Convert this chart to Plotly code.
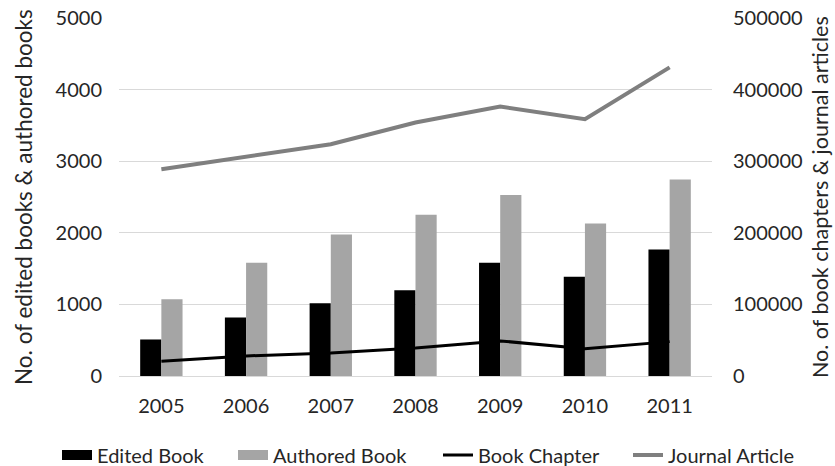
import plotly.graph_objects as go

years = ["2005", "2006", "2007", "2008", "2009", "2010", "2011"]
edited_book = [510, 816, 1017, 1199, 1581, 1385, 1768]
authored_book = [1073, 1581, 1978, 2253, 2528, 2131, 2743]
book_chapter = [20500, 28000, 32200, 39200, 49000, 38200, 48000]
journal_article = [288700, 305500, 323700, 354000, 376400, 358700, 431000]
left_title = "No. of edited books & authored books"
right_title = "No. of book chapters & journal articles"

FONT = "Lato"
TXT = "#262626"
C_EDIT = "#000000"
C_AUTH = "#a5a5a5"
C_CHAP = "#000000"
C_JOUR = "#7f7f7f"

fig = go.Figure()
fig.add_trace(go.Bar(x=years, y=edited_book, name="Edited Book", showlegend=False,
                     legendgroup="e", marker=dict(color=C_EDIT, line=dict(width=0))))
fig.add_trace(go.Bar(x=years, y=authored_book, name="Authored Book", showlegend=False,
                     legendgroup="a", marker=dict(color=C_AUTH, line=dict(width=0))))
fig.add_trace(go.Scatter(x=years, y=book_chapter, name="Book Chapter", yaxis="y2",
                         mode="lines", line=dict(color=C_CHAP, width=3), legend="legend3"))
fig.add_trace(go.Scatter(x=years, y=journal_article, name="Journal Article", yaxis="y2",
                         mode="lines", line=dict(color=C_JOUR, width=4), legend="legend4"))
# legend-only swatches for the bar series (wide rectangles like the original)
fig.add_trace(go.Scatter(x=[None], y=[None], name="Edited Book", mode="lines",
                         legendgroup="e", line=dict(color=C_EDIT, width=13), legend="legend"))
fig.add_trace(go.Scatter(x=[None], y=[None], name="Authored Book", mode="lines",
                         legendgroup="a", line=dict(color=C_AUTH, width=13), legend="legend2"))

plot_l, plot_r = 119, 712
plot_t, plot_b = 18, 376
pw = plot_r - plot_l
ph = plot_b - plot_t


def lx(px):
    return (px - plot_l) / pw


leg_y = (plot_b - 455) / ph
leg_common = dict(orientation="h", yanchor="middle", xanchor="left", y=leg_y,
                  font=dict(family=FONT, size=20, color=TXT), bgcolor="rgba(0,0,0,0)")

fig.update_layout(
    width=835, height=466,
    margin=dict(l=plot_l, r=835 - plot_r, t=plot_t, b=466 - plot_b, autoexpand=False),
    paper_bgcolor="white", plot_bgcolor="white",
    font=dict(family=FONT, size=20, color=TXT),
    barmode="group", bargap=0.5, bargroupgap=0,
    showlegend=True,
    legend=dict(x=lx(99 - 42), **leg_common),
    legend2=dict(x=lx(275 - 42), **leg_common),
    legend3=dict(x=lx(480 - 42), **leg_common),
    legend4=dict(x=lx(670 - 42), **leg_common),
    xaxis=dict(showgrid=False, showline=False, zeroline=False, ticks="",
               ticklabelstandoff=16, tickfont=dict(size=20, color=TXT)),
    yaxis=dict(range=[0, 5000], dtick=1000, showgrid=True, gridcolor="#d9d9d9", gridwidth=1,
               zeroline=True, zerolinecolor="#d9d9d9", zerolinewidth=1, showline=False,
               ticks="", ticklabelstandoff=16, tickfont=dict(size=20, color=TXT)),
    yaxis2=dict(range=[0, 500000], dtick=100000, tickformat="d", overlaying="y", side="right",
                showgrid=False, zeroline=False, showline=False, ticks="",
                ticklabelstandoff=20, tickfont=dict(size=20, color=TXT)),
    annotations=[
        dict(text=left_title, xref="paper", yref="paper", x=lx(23), y=0.5,
             xanchor="center", yanchor="middle", textangle=-90, showarrow=False,
             font=dict(family=FONT, size=22.5, color=TXT)),
        dict(text=right_title, xref="paper", yref="paper", x=lx(820), y=0.5,
             xanchor="center", yanchor="middle", textangle=-90, showarrow=False,
             font=dict(family=FONT, size=21.5, color=TXT)),
    ],
)

fig.write_html("out.html")
